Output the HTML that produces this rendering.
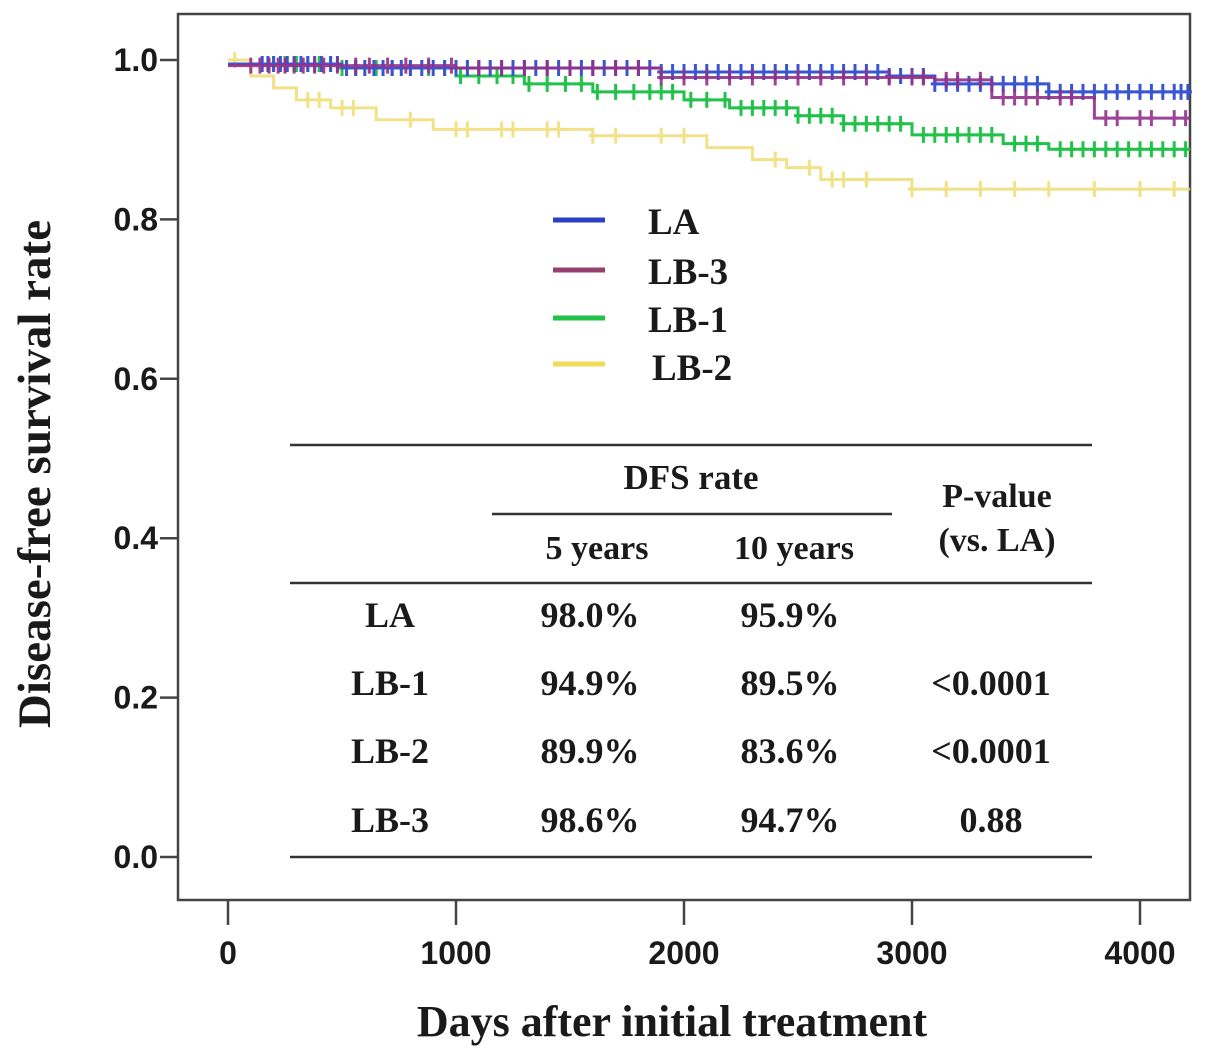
<!DOCTYPE html>
<html><head><meta charset="utf-8"><style>
body{margin:0;background:#fff;}
svg{display:block;}
.tk{font-family:"Liberation Sans",sans-serif;font-weight:bold;font-size:32px;fill:#1a1a1a;}
.sf{font-family:"Liberation Serif",serif;font-weight:bold;fill:#1a1a1a;}
</style></head><body>
<svg id="chart" width="1205" height="1057" viewBox="0 0 1205 1057">
<rect x="178" y="14" width="1012" height="886" fill="#fff" stroke="#444" stroke-width="2.5"/>
<g id="axes"></g>
<g id="curves"></g>
<g>
<line x1="553" y1="220" x2="605" y2="220" stroke="#2e3fc4" stroke-width="5"/>
<text x="648" y="234" class="sf" font-size="37">LA</text>
<line x1="553" y1="270" x2="605" y2="270" stroke="#93406f" stroke-width="5"/>
<text x="648" y="284" class="sf" font-size="37">LB-3</text>
<line x1="553" y1="318" x2="605" y2="318" stroke="#22c24a" stroke-width="5"/>
<text x="648" y="332" class="sf" font-size="37">LB-1</text>
<line x1="553" y1="364" x2="605" y2="364" stroke="#eedc5a" stroke-width="5"/>
<text x="652" y="380" class="sf" font-size="37">LB-2</text>
</g>
<g class="sf">
<line x1="290" y1="445" x2="1092" y2="445" stroke="#333" stroke-width="2.5"/>
<line x1="492" y1="514" x2="892" y2="514" stroke="#333" stroke-width="2.5"/>
<line x1="290" y1="583" x2="1092" y2="583" stroke="#333" stroke-width="2.5"/>
<line x1="290" y1="857" x2="1092" y2="857" stroke="#333" stroke-width="2.5"/>
<text x="691" y="489" text-anchor="middle" class="sf" font-size="35">DFS rate</text>
<text x="997" y="507" text-anchor="middle" class="sf" font-size="34">P-value</text>
<text x="997" y="551" text-anchor="middle" class="sf" font-size="34">(vs. LA)</text>
<text x="597" y="559" text-anchor="middle" class="sf" font-size="34">5 years</text>
<text x="794" y="559" text-anchor="middle" class="sf" font-size="34">10 years</text>
<g text-anchor="middle" font-size="36">
<text x="390" y="627" class="sf">LA</text>
<text x="590" y="627" class="sf">98.0%</text><text x="790" y="627" class="sf">95.9%</text>
<text x="390" y="695" class="sf">LB-1</text>
<text x="590" y="695" class="sf">94.9%</text><text x="790" y="695" class="sf">89.5%</text><text x="991" y="695" class="sf">&lt;0.0001</text>
<text x="390" y="763" class="sf">LB-2</text>
<text x="590" y="763" class="sf">89.9%</text><text x="790" y="763" class="sf">83.6%</text><text x="991" y="763" class="sf">&lt;0.0001</text>
<text x="390" y="832" class="sf">LB-3</text>
<text x="590" y="832" class="sf">98.6%</text><text x="790" y="832" class="sf">94.7%</text><text x="991" y="832" class="sf">0.88</text>
</g>
</g>
<text x="672" y="1036" text-anchor="middle" class="sf" font-size="44">Days after initial treatment</text>
<text transform="translate(50,474) rotate(-90)" text-anchor="middle" class="sf" font-size="47">Disease-free survival rate</text>
</svg>
<script>
const xTicks=[0,1000,2000,3000,4000];
const yTicks=[0,0.2,0.4,0.6,0.8,1.0];
const laDays=[0,500,1900,2900,3100,3600,4220];
const laSurv=[0.995,0.99,0.985,0.98,0.97,0.96,0.959];
const lb3Days=[0,1000,1900,3100,3350,3800,4220];
const lb3Surv=[0.993,0.99,0.978,0.975,0.953,0.927,0.927];
const lb1Days=[0,500,1000,1300,1600,2000,2200,2500,2700,3000,3400,3600,4220];
const lb1Surv=[0.995,0.99,0.98,0.97,0.96,0.95,0.94,0.93,0.92,0.906,0.895,0.888,0.888];
const lb2Days=[0,100,200,300,450,650,900,1600,2100,2300,2450,2600,3000,4220];
const lb2Surv=[1.0,0.98,0.965,0.95,0.94,0.925,0.913,0.905,0.89,0.875,0.865,0.85,0.838,0.838];
const laCens=[150,175,200,230,260,290,320,350,380,410,450,480,520,560,600,640,680,720,760,800,850,900,950,1000,1050,1100,1150,1200,1250,1300,1350,1400,1450,1500,1550,1600,1650,1700,1750,1800,1850,1900,1950,2000,2050,2100,2150,2200,2250,2300,2350,2400,2450,2500,2550,2600,2650,2700,2750,2800,2850,2900,2950,3000,3050,3100,3150,3200,3250,3300,3350,3400,3450,3500,3550,3600,3650,3700,3750,3800,3850,3900,3950,4000,4050,4100,4150,4180,4210];
const lb3Cens=[100,140,180,220,250,290,330,380,420,480,560,620,700,780,880,980,1100,1200,1300,1400,1500,1600,1700,1800,1900,2000,2100,2200,2300,2400,2500,2600,2700,2800,2900,3000,3050,3150,3200,3300,3400,3450,3500,3550,3650,3700,3850,3900,4000,4050,4150,4200];
const lb1Cens=[200,250,300,350,400,450,500,560,650,720,800,880,950,1020,1100,1180,1250,1320,1400,1480,1550,1620,1700,1780,1850,1900,1950,2030,2100,2180,2250,2300,2350,2400,2450,2500,2550,2600,2650,2700,2750,2800,2850,2900,2950,3050,3100,3150,3200,3250,3300,3350,3450,3500,3550,3650,3700,3750,3800,3850,3900,3950,4000,4050,4100,4150,4200];
const lb2Cens=[30,350,400,500,550,800,1000,1050,1200,1250,1400,1450,1600,1700,1900,2000,2400,2550,2650,2700,2800,3000,3150,3300,3450,3600,3800,4000,4150];
const NS='http://www.w3.org/2000/svg';
const xs=d=>228+d*0.228;
const ys=s=>857-s*797;
function mk(t,a,p){const e=document.createElementNS(NS,t);for(const k in a)e.setAttribute(k,a[k]);p.appendChild(e);return e;}
const ax=document.getElementById('axes');
xTicks.forEach(v=>{
  const l=mk('line',{x1:xs(v),x2:xs(v),y1:900,y2:925,stroke:'#444','stroke-width':2.5},ax);
  
  
  const t=mk('text',{x:xs(v),y:964,'text-anchor':'middle',class:'tk'},ax);t.textContent=v;
  
  
});
yTicks.forEach(v=>{
  const l=mk('line',{x1:160,x2:178,y1:ys(v),y2:ys(v),stroke:'#444','stroke-width':2.5},ax);
  
  
  const t=mk('text',{x:158,y:ys(v)+11,'text-anchor':'end',class:'tk'},ax);t.textContent=v.toFixed(1);
  
  
});
const cv=document.getElementById('curves');
function survAt(days,surv,d){let s=surv[0];for(let i=0;i<days.length;i++){if(days[i]<=d)s=surv[i];}return s;}
function draw(days,surv,cens,color,name,op){
  const g=mk('g',{opacity:op},cv);
  
  
  let p='M'+xs(days[0])+','+ys(surv[0]);
  for(let i=1;i<days.length;i++){p+=' H'+xs(days[i])+' V'+ys(surv[i]);}
  mk('path',{d:p,fill:'none',stroke:color,'stroke-width':3},g);
  cens.forEach(d=>{const s=survAt(days,surv,d);
    const c=mk('path',{d:'M'+xs(d)+','+(ys(s)-8)+' v16 M'+(xs(d)-4)+','+ys(s)+' h8',stroke:color,'stroke-width':3,fill:'none'},g);
    
    
  });
}
draw(lb2Days,lb2Surv,lb2Cens,'#eedc6a','curve-lb2',0.8);
draw(lb1Days,lb1Surv,lb1Cens,'#22c24a','curve-lb1',1);
draw(laDays,laSurv,laCens,'#3a55d0','curve-la',1);
draw(lb3Days,lb3Surv,lb3Cens,'#93308a','curve-lb3',0.9);
</script>
</body></html>
